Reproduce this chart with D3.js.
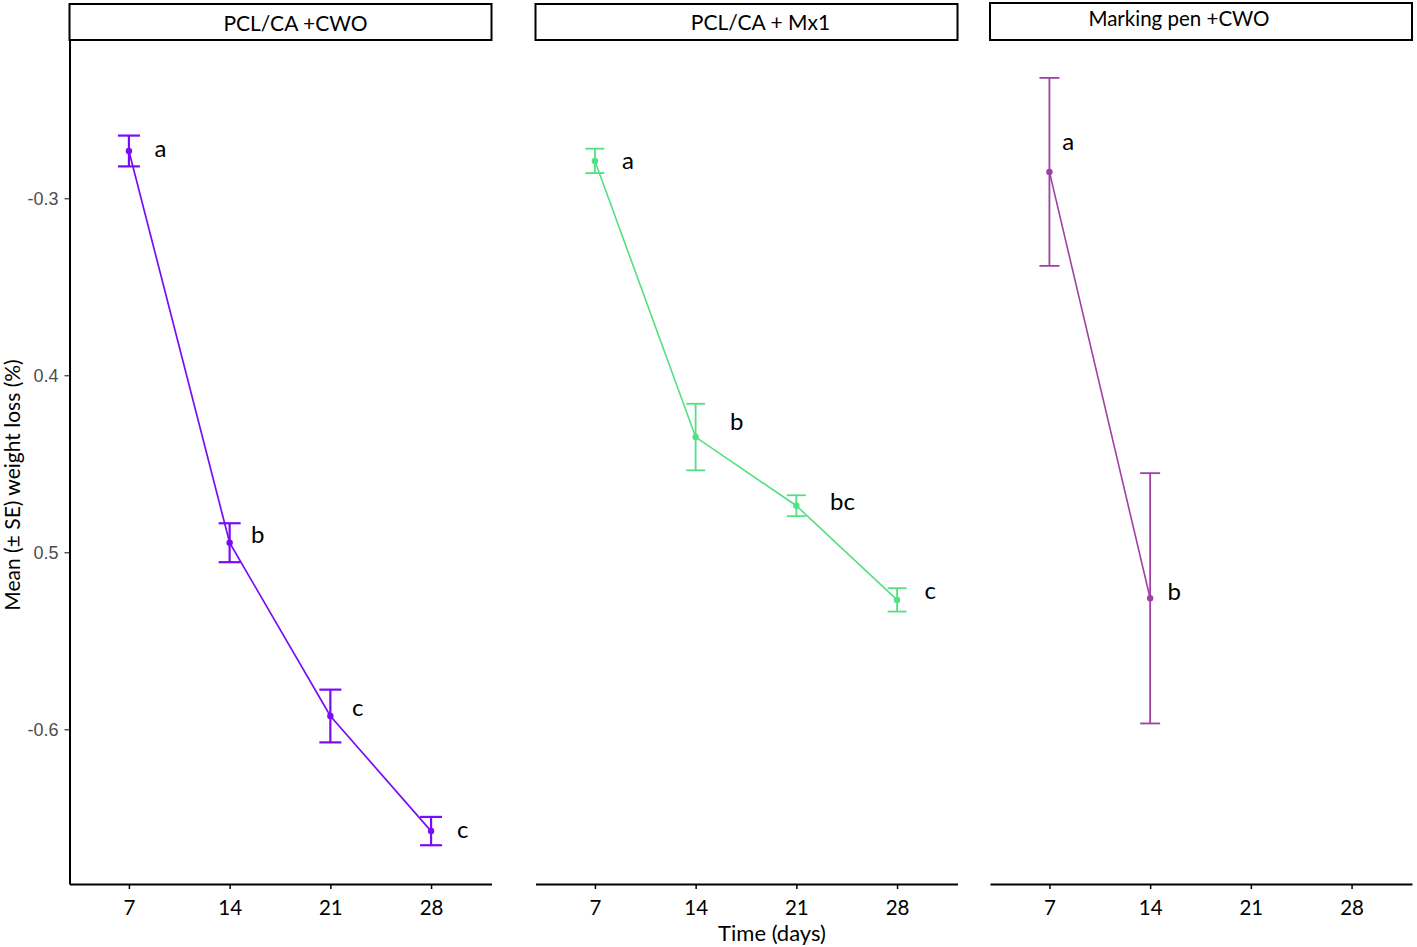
<!DOCTYPE html>
<html>
<head>
<meta charset="utf-8">
<script src="https://cdn.jsdelivr.net/npm/d3@7/dist/d3.min.js"></script>
<style>
  html, body { margin: 0; padding: 0; background: #fff; }
  svg { display: block; }
</style>
</head>
<body>
<svg id="chart" width="1417" height="947"></svg>
<script>
// ---------------- data ----------------
const days = [7, 14, 21, 28];
const panelTitles = ["PCL/CA +CWO", "PCL/CA + Mx1", "Marking pen +CWO"];

const meanCWO = [-0.2733, -0.4946, -0.5925, -0.6575];
const seCWO   = [0.0087, 0.0110, 0.0149, 0.0080];
const lettersCWO = ["a", "b", "c", "c"];
const letterDayCWO = [9.2, 15.95, 22.9, 30.2];
const letterValCWO = [-0.2727, -0.4908, -0.5885, -0.6575];

const meanMx1 = [-0.2789, -0.4349, -0.4737, -0.5269];
const seMx1   = [0.0069, 0.0188, 0.0059, 0.0066];
const lettersMx1 = ["a", "b", "bc", "c"];
const letterDayMx1 = [9.3, 16.86, 24.2, 30.3];
const letterValMx1 = [-0.2795, -0.4270, -0.4721, -0.5224];

const daysPen = [7, 14];
const meanPen = [-0.2851, -0.5260];
const sePen   = [0.0531, 0.0707];
const lettersPen = ["a", "b"];
const letterDayPen = [8.3, 15.67];
const letterValPen = [-0.2688, -0.5228];

const yTickValues = [-0.3, -0.4, -0.5, -0.6];
const yTickLabels = ["-0.3", "0.4", "0.5", "-0.6"];

const xTitle = "Time (days)";
const yTitle = "Mean (\u00B1 SE) weight loss (%)";

// ---------------- layout / style ----------------
const panelLeft = [69.5, 535.5, 990];
const panelWidth = 422;
const plotTop = 40, plotBottom = 884;
const stripTop = [4, 4, 3];
const stripLabelY = [23, 22, 19];
const stripLabelShift = [15, 14, -22];
const stripFont = [21, 21, 20.5];
const colors = ["#7a0cf5", "#52e082", "#a040a6"];
const lineW = [1.7, 1.6, 1.6];
const barW = [2.2, 1.8, 1.8];
const capHalf = [11, 9.5, 10];
const FONT = "Lato, 'Open Sans', sans-serif";

const panels = [
  {days: days, mean: meanCWO, se: seCWO, letters: lettersCWO, ld: letterDayCWO, lv: letterValCWO},
  {days: days, mean: meanMx1, se: seMx1, letters: lettersMx1, ld: letterDayMx1, lv: letterValMx1},
  {days: daysPen, mean: meanPen, se: sePen, letters: lettersPen, ld: letterDayPen, lv: letterValPen}
];

const svg = d3.select("#chart");

const y = d3.scaleLinear().domain([-0.6874, -0.2106]).range([plotBottom, plotTop]);

panels.forEach((p, i) => {
  const x = d3.scaleLinear().domain([2.87, 32.2]).range([panelLeft[i], panelLeft[i] + panelWidth]);
  const g = svg.append("g");
  const col = colors[i];

  // strip
  const st = stripTop[i];
  g.append("rect")
    .attr("x", panelLeft[i]).attr("y", st)
    .attr("width", panelWidth).attr("height", plotTop - st)
    .attr("fill", "#fff").attr("stroke", "#000").attr("stroke-width", 2);
  g.append("text")
    .attr("x", panelLeft[i] + panelWidth / 2 + stripLabelShift[i])
    .attr("y", stripLabelY[i])
    .attr("dy", "0.36em")
    .attr("text-anchor", "middle")
    .attr("font-family", FONT).attr("font-size", stripFont[i])
    .attr("fill", "#000")
    .text(panelTitles[i]);

  // x axis
  const xa = g.append("g")
    .attr("transform", `translate(0,${plotBottom})`)
    .call(d3.axisBottom(x).tickValues(days).tickSize(5).tickSizeOuter(0).tickPadding(11).tickFormat(d3.format("d")));
  xa.select(".domain").attr("stroke", "#000").attr("stroke-width", 2);
  xa.selectAll(".tick line").attr("stroke", "#000").attr("stroke-width", 1.5);
  xa.selectAll(".tick text").attr("font-family", FONT).attr("font-size", 20.5).attr("fill", "#000");

  // y axis only first panel
  if (i === 0) {
    const ya = g.append("g")
      .attr("transform", `translate(${panelLeft[i]},0)`)
      .call(d3.axisLeft(y).tickValues(yTickValues).tickSize(5).tickSizeOuter(0).tickPadding(6)
        .tickFormat((d, k) => yTickLabels[k]));
    ya.select(".domain").attr("stroke", "#000").attr("stroke-width", 2);
    ya.selectAll(".tick line").attr("stroke", "#333").attr("stroke-width", 1.2);
    ya.selectAll(".tick text").attr("font-family", "'Liberation Sans', Arial, sans-serif")
      .attr("font-size", 18).attr("fill", "#4d4d4d");
  }

  const pts = p.days.map((d, k) => ({d: d, m: p.mean[k], s: p.se[k]}));

  // line
  const line = d3.line().x(o => x(o.d)).y(o => y(o.m));
  g.append("path").datum(pts)
    .attr("d", line).attr("fill", "none")
    .attr("stroke", col).attr("stroke-width", lineW[i]);

  // error bars
  const eb = g.append("g").attr("stroke", col).attr("stroke-width", barW[i]).attr("fill", "none");
  pts.forEach(o => {
    const cx = x(o.d), y1 = y(o.m + o.s), y2 = y(o.m - o.s);
    eb.append("line").attr("x1", cx).attr("x2", cx).attr("y1", y1).attr("y2", y2);
    eb.append("line").attr("x1", cx - capHalf[i]).attr("x2", cx + capHalf[i]).attr("y1", y1).attr("y2", y1);
    eb.append("line").attr("x1", cx - capHalf[i]).attr("x2", cx + capHalf[i]).attr("y1", y2).attr("y2", y2);
  });

  // points
  g.selectAll("circle.pt").data(pts).join("circle")
    .attr("class", "pt")
    .attr("cx", o => x(o.d)).attr("cy", o => y(o.m))
    .attr("r", 3.2).attr("fill", col);

  // letters
  p.letters.forEach((t, k) => {
    g.append("text")
      .attr("x", x(p.ld[k])).attr("y", y(p.lv[k]))
      .attr("dy", "0.3em")
      .attr("text-anchor", "middle")
      .attr("font-family", FONT).attr("font-size", 24)
      .attr("fill", "#000")
      .text(t);
  });
});

// axis titles
svg.append("text")
  .attr("x", 772).attr("y", 941)
  .attr("text-anchor", "middle")
  .attr("font-family", FONT).attr("font-size", 22)
  .attr("fill", "#000")
  .text(xTitle);

svg.append("text")
  .attr("transform", "translate(20,485) rotate(-90)")
  .attr("text-anchor", "middle")
  .attr("font-family", FONT).attr("font-size", 21)
  .attr("fill", "#000")
  .text(yTitle);
</script>
</body>
</html>
